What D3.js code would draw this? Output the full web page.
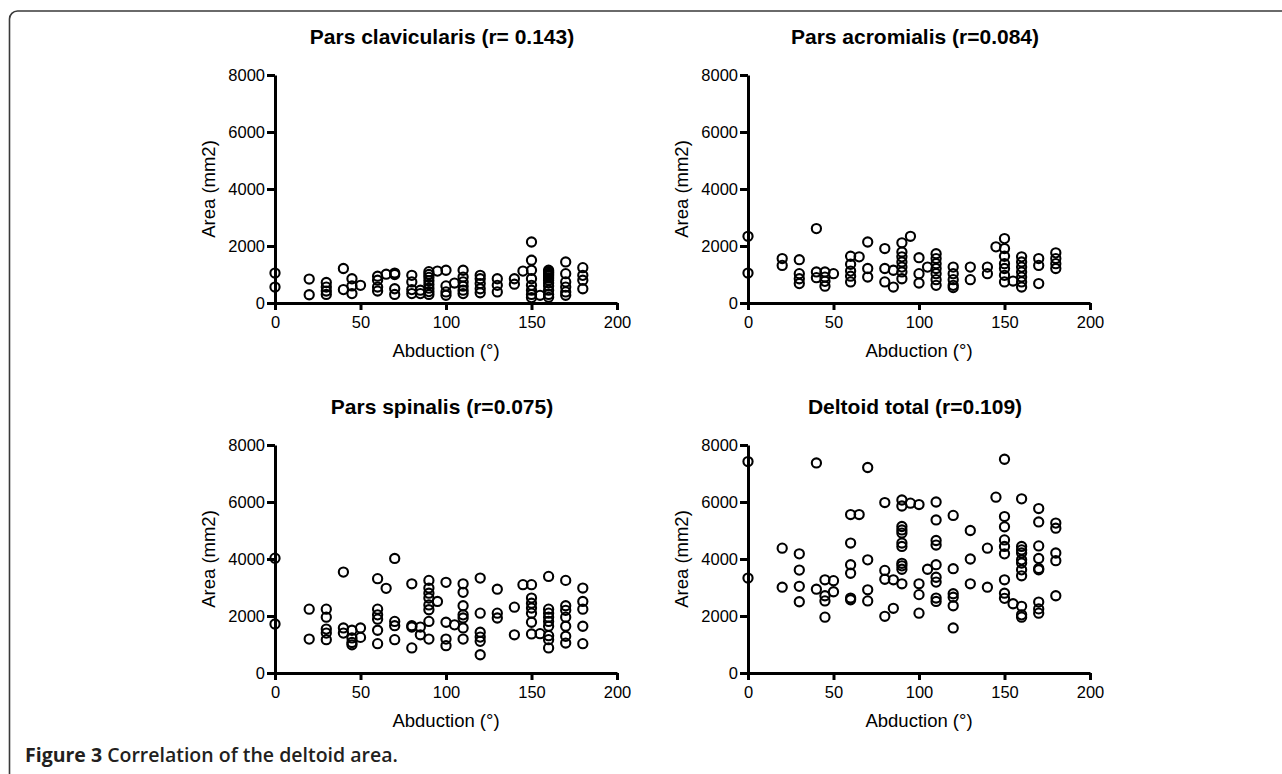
<!DOCTYPE html>
<html>
<head>
<meta charset="utf-8">
<script src="https://cdn.jsdelivr.net/npm/d3@7"></script>
<style>
  html, body { margin: 0; padding: 0; background: #fff; }
  svg { display: block; }
  .tick text { font-family: "Liberation Sans", Arial, sans-serif; font-size: 16.5px; fill: #000; }
  .axis-label { font-family: "Liberation Sans", Arial, sans-serif; font-size: 18.5px; fill: #000; }
  .panel-title { font-family: "Liberation Sans", Arial, sans-serif; font-size: 21px; font-weight: bold; fill: #000; }
  .caption { font-family: "Open Sans", sans-serif; font-size: 19.5px; fill: #231f20; }
</style>
</head>
<body>
<svg id="fig" width="1282" height="774"></svg>
<script>
const PLOT_W = 342;
const PLOT_H = 228;

const xTicks = [0, 50, 100, 150, 200];
const yTicks = [0, 2000, 4000, 6000, 8000];

// [abduction (deg), area (mm2)]
const clavicularis = [
  [0, 1050], [0, 560],
  [20, 840], [20, 290],
  [30, 720], [30, 560], [30, 420], [30, 300],
  [40, 1210], [40, 470],
  [45, 850], [45, 600], [45, 330],
  [50, 620],
  [60, 940], [60, 800], [60, 560], [60, 420],
  [65, 1010],
  [70, 1050], [70, 1000], [70, 500], [70, 300],
  [80, 970], [80, 740], [80, 470], [80, 330],
  [85, 450], [85, 330],
  [90, 1100], [90, 1000], [90, 900], [90, 780], [90, 650], [90, 520], [90, 400], [90, 300],
  [95, 1120],
  [100, 1150], [100, 600], [100, 390], [100, 270],
  [105, 700],
  [110, 1150], [110, 910], [110, 740], [110, 590], [110, 450], [110, 330],
  [120, 970], [120, 850], [120, 680], [120, 500], [120, 360],
  [130, 850], [130, 620], [130, 390],
  [140, 850], [140, 660],
  [145, 1120],
  [150, 2140], [150, 1500], [150, 1150], [150, 850], [150, 620], [150, 450], [150, 300], [150, 190],
  [155, 270],
  [160, 1150], [160, 1100], [160, 1050], [160, 1000], [160, 950], [160, 880], [160, 800],
  [160, 700], [160, 600], [160, 450], [160, 300], [160, 200],
  [170, 1440], [170, 1030], [170, 740], [170, 560], [170, 390], [170, 270],
  [180, 1240], [180, 970], [180, 800], [180, 500]
];

const acromialis = [
  [0, 2340], [0, 1050],
  [20, 1560], [20, 1320],
  [30, 1520], [30, 1030], [30, 850], [30, 680],
  [40, 2610], [40, 1090], [40, 890],
  [45, 1090], [45, 910], [45, 760], [45, 590],
  [50, 1030],
  [60, 1640], [60, 1360], [60, 1120], [60, 940], [60, 740],
  [65, 1620],
  [70, 2140], [70, 1210], [70, 910],
  [80, 1910], [80, 1210], [80, 740],
  [85, 1150], [85, 560],
  [90, 2110], [90, 1790], [90, 1620], [90, 1440], [90, 1260], [90, 1090], [90, 850],
  [95, 2340],
  [100, 1590], [100, 1030], [100, 700],
  [105, 1260],
  [110, 1730], [110, 1560], [110, 1380], [110, 1210], [110, 1030], [110, 820], [110, 620],
  [120, 1260], [120, 1030], [120, 820], [120, 620], [120, 540],
  [130, 1260], [130, 820],
  [140, 1260], [140, 1030],
  [145, 1970],
  [150, 2260], [150, 1910], [150, 1640], [150, 1380], [150, 1210], [150, 970], [150, 740],
  [155, 770],
  [160, 1620], [160, 1440], [160, 1260], [160, 1090], [160, 910], [160, 740], [160, 560],
  [170, 1560], [170, 1320], [170, 680],
  [180, 1760], [180, 1560], [180, 1380], [180, 1210]
];

const spinalis = [
  [0, 4030], [0, 1720],
  [20, 2240], [20, 1190],
  [30, 2240], [30, 1960], [30, 1540], [30, 1400], [30, 1170],
  [40, 3540], [40, 1580], [40, 1400],
  [45, 1500], [45, 1230], [45, 1070], [45, 990],
  [50, 1580], [50, 1250],
  [60, 3310], [60, 2240], [60, 2040], [60, 1890], [60, 1500], [60, 1030],
  [65, 2970],
  [70, 4020], [70, 1810], [70, 1660], [70, 1170],
  [80, 3130], [80, 1660], [80, 1610], [80, 880],
  [85, 1610], [85, 1340],
  [90, 3250], [90, 2980], [90, 2800], [90, 2630], [90, 2390], [90, 2220], [90, 1810], [90, 1190],
  [95, 2510],
  [100, 3180], [100, 1780], [100, 1190], [100, 960],
  [105, 1690],
  [110, 3130], [110, 2830], [110, 2360], [110, 2040], [110, 1930], [110, 1580], [110, 1190],
  [120, 3330], [120, 2100], [120, 1430], [120, 1260], [120, 1110], [120, 640],
  [130, 2940], [130, 2100], [130, 1930],
  [140, 2310], [140, 1340],
  [145, 3100],
  [150, 3100], [150, 2630], [150, 2450], [150, 2280], [150, 2100], [150, 1780], [150, 1370],
  [155, 1380],
  [160, 3390], [160, 2240], [160, 2100], [160, 1960], [160, 1810], [160, 1640], [160, 1310],
  [160, 1170], [160, 880],
  [170, 3250], [170, 2360], [170, 2200], [170, 1960], [170, 1640], [170, 1290], [170, 1050],
  [180, 2980], [180, 2510], [180, 2240], [180, 1640], [180, 1030]
];

const deltoidTotal = [
  [0, 7420], [0, 3330],
  [20, 4380], [20, 3010],
  [30, 4180], [30, 3610], [30, 3040], [30, 2500],
  [40, 7370], [40, 2940],
  [45, 3270], [45, 2710], [45, 2530], [45, 1960],
  [50, 3240], [50, 2850],
  [60, 5560], [60, 4560], [60, 3800], [60, 3500], [60, 2630], [60, 2570],
  [65, 5560],
  [70, 7210], [70, 3970], [70, 2920], [70, 2530],
  [80, 5980], [80, 3600], [80, 3290], [80, 1990],
  [85, 3270], [85, 2270],
  [90, 6070], [90, 5860], [90, 5140], [90, 5020], [90, 4910], [90, 4560], [90, 4440],
  [90, 3850], [90, 3760], [90, 3640], [90, 3130],
  [95, 5960],
  [100, 5910], [100, 3130], [100, 2750], [100, 2100],
  [105, 3640],
  [110, 6000], [110, 5370], [110, 4650], [110, 4490], [110, 3800], [110, 3360], [110, 3190],
  [110, 2630], [110, 2510],
  [120, 5530], [120, 3660], [120, 2780], [120, 2660], [120, 2360], [120, 1580],
  [130, 5000], [130, 4000], [130, 3130],
  [140, 4380], [140, 3010],
  [145, 6170],
  [150, 7500], [150, 5490], [150, 5130], [150, 4670], [150, 4440], [150, 4180], [150, 3270],
  [150, 2800], [150, 2620],
  [155, 2430],
  [160, 6110], [160, 4440], [160, 4320], [160, 4210], [160, 3970], [160, 3860], [160, 3620],
  [160, 3410], [160, 2340], [160, 2040], [160, 1960],
  [170, 5770], [170, 5300], [170, 4460], [170, 4020], [170, 3670], [170, 3620], [170, 2490],
  [170, 2250], [170, 2100],
  [180, 5260], [180, 5080], [180, 4210], [180, 3940], [180, 2710]
];

const panels = [
  { title: "Pars clavicularis (r= 0.143)", data: clavicularis, left: 275, top: 75 },
  { title: "Pars acromialis (r=0.084)", data: acromialis, left: 748, top: 75 },
  { title: "Pars spinalis (r=0.075)", data: spinalis, left: 275, top: 445 },
  { title: "Deltoid total (r=0.109)", data: deltoidTotal, left: 748, top: 445 }
];

const svg = d3.select("#fig");

// outer rounded frame (right and bottom run off the page)
svg.append("rect")
  .attr("x", 9.5)
  .attr("y", 11)
  .attr("width", 1400)
  .attr("height", 900)
  .attr("rx", 8)
  .attr("fill", "none")
  .attr("stroke", "#3a3a3a")
  .attr("stroke-width", 1.6);

const x = d3.scaleLinear().domain([0, 200]).range([0, PLOT_W]);
const y = d3.scaleLinear().domain([0, 8000]).range([PLOT_H, 0]);

const drawPanel = (p) => {
  const g = svg.append("g").attr("transform", `translate(${p.left},${p.top})`);

  const xAxis = g.append("g")
    .attr("transform", `translate(0,${PLOT_H})`)
    .call(d3.axisBottom(x).tickValues(xTicks).tickFormat(d3.format("d"))
      .tickSize(7).tickSizeOuter(0).tickPadding(6));

  const yAxis = g.append("g")
    .call(d3.axisLeft(y).tickValues(yTicks).tickFormat(d3.format("d"))
      .tickSize(8).tickSizeOuter(0).tickPadding(2));

  [xAxis, yAxis].forEach(a => {
    a.select(".domain").attr("stroke", "#000").attr("stroke-width", 3);
    a.selectAll(".tick line").attr("stroke", "#000").attr("stroke-width", 3);
    a.attr("font-family", null).attr("font-size", null);
  });

  g.selectAll("circle.pt")
    .data(p.data)
    .enter()
    .append("circle")
    .attr("class", "pt")
    .attr("cx", d => x(d[0]))
    .attr("cy", d => y(d[1]))
    .attr("r", 4.6)
    .attr("fill", "none")
    .attr("stroke", "#000")
    .attr("stroke-width", 2.1);

  g.append("text")
    .attr("class", "panel-title")
    .attr("x", PLOT_W / 2 - 4)
    .attr("y", -31)
    .attr("text-anchor", "middle")
    .text(p.title);

  g.append("text")
    .attr("class", "axis-label")
    .attr("x", PLOT_W / 2)
    .attr("y", PLOT_H + 54)
    .attr("text-anchor", "middle")
    .text("Abduction (°)");

  g.append("text")
    .attr("class", "axis-label")
    .attr("transform", `translate(-60,${PLOT_H / 2}) rotate(-90)`)
    .attr("text-anchor", "middle")
    .text("Area (mm2)");
};

panels.forEach(drawPanel);

const caption = svg.append("text")
  .attr("class", "caption")
  .attr("x", 25)
  .attr("y", 762);
caption.append("tspan").attr("font-weight", 700).text("Figure 3");
caption.append("tspan").attr("font-weight", 600).text(" Correlation of the deltoid area.");
</script>
</body>
</html>
